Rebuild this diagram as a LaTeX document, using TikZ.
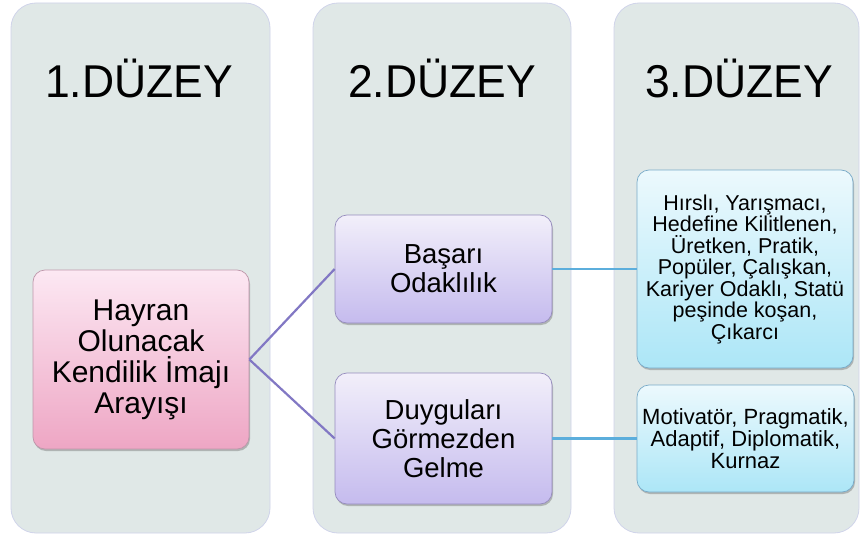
\documentclass[tikz,border=0pt]{standalone}
\usepackage{fontspec}
\setmainfont{Liberation Sans}
\usetikzlibrary{shadows}
\definecolor{panelfill}{RGB}{224,232,231}
\definecolor{panelborder}{RGB}{208,212,234}
\definecolor{pinktop}{RGB}{252,232,243}
\definecolor{pinkbot}{RGB}{238,166,196}
\definecolor{pinkborder}{RGB}{190,150,170}
\definecolor{purptop}{RGB}{242,239,250}
\definecolor{purpbot}{RGB}{197,187,238}
\definecolor{purpborder}{RGB}{150,140,190}
\definecolor{bluetop}{RGB}{236,249,253}
\definecolor{bluebot}{RGB}{172,230,247}
\definecolor{blueborder}{RGB}{120,170,200}
\definecolor{purpline}{RGB}{130,120,196}
\definecolor{blueline}{RGB}{92,174,220}
\tikzset{
  panel/.style={draw=panelborder, fill=panelfill, rounded corners=25pt, line width=0.8pt},
  header/.style={anchor=base, font=\fontsize{46}{46}\selectfont, inner sep=0pt},
  boxbase/.style={rounded corners=12pt, line width=0.7pt, align=center, inner sep=2pt,
    drop shadow={shadow xshift=1pt, shadow yshift=-2pt, opacity=0.4, fill=black!60}},
  pinkbox/.style={boxbase, draw=pinkborder, top color=pinktop, bottom color=pinkbot,
    font=\fontsize{30}{31}\selectfont},
  purpbox/.style={boxbase, draw=purpborder, top color=purptop, bottom color=purpbot,
    font=\fontsize{27.5}{29}\selectfont},
  bluebox/.style={boxbase, draw=blueborder, top color=bluetop, bottom color=bluebot,
    font=\fontsize{21.5}{21.5}\selectfont},
  purplink/.style={draw=purpline, line width=2.2pt},
  bluelink/.style={draw=blueline, line width=2.2pt}
}
\begin{document}
\begin{tikzpicture}[x=1pt,y=-1pt]
\useasboundingbox (0,0) rectangle (860,535);
\fill[white] (0,0) rectangle (860,535);
% panels
\draw[panel] (11,3) rectangle (270,533);
\draw[panel] (313,3) rectangle (571,533);
\draw[panel] (614,3) rectangle (859,533);
% headers
\node[header] (h1) at (139,97) {\scalebox{0.967}[1]{1.DÜZEY}};
\node[header] (h2) at (442,97) {\scalebox{0.967}[1]{2.DÜZEY}};
\node[header] (h3) at (739,97) {\scalebox{0.967}[1]{3.DÜZEY}};
% boxes
\node[pinkbox, minimum width=216pt, minimum height=179pt] (root) at (141,359.5)
  {Hayran\\Olunacak\\Kendilik İmajı\\Arayışı};
\node[purpbox, minimum width=217pt, minimum height=108pt] (b1) at (443.5,269)
  {Başarı\\Odaklılık};
\node[purpbox, minimum width=217pt, minimum height=131pt] (b2) at (443.5,438.5)
  {Duyguları\\Görmezden\\Gelme};
\node[bluebox, minimum width=216pt, minimum height=198pt] (c1) at (745,269)
  {Hırslı, Yarışmacı,\\Hedefine Kilitlenen,\\Üretken, Pratik,\\Popüler, Çalışkan,\\Kariyer Odaklı, Statü\\peşinde koşan,\\Çıkarcı};
\node[bluebox, minimum width=217pt, minimum height=107pt, font=\fontsize{22}{22}\selectfont] (c2) at (745.5,438.5)
  {Motivatör, Pragmatik,\\Adaptif, Diplomatik,\\Kurnaz};
% connectors
\draw[purplink] (root.east) -- (b1.west);
\draw[purplink] (root.east) -- (b2.west);
\draw[bluelink] (b1.east) -- (c1.west);
\draw[bluelink] (b2.east) -- (c2.west);
\end{tikzpicture}
\end{document}
